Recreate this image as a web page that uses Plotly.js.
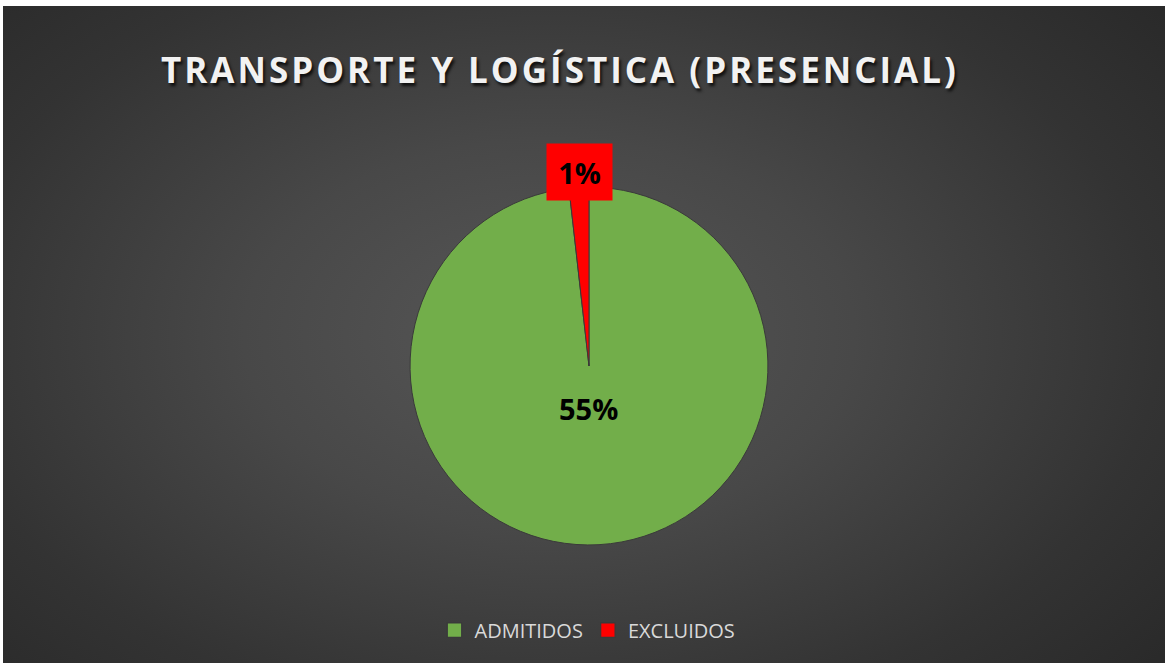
<!DOCTYPE html>
<html><head><meta charset="utf-8">
<script src="https://cdn.plot.ly/plotly-3.0.1.min.js"></script>
<style>
html,body{margin:0;padding:0;background:#fff;width:1165px;height:663px;overflow:hidden;}
#chart{position:absolute;left:3px;top:6px;width:1162px;height:657px;
background:radial-gradient(ellipse 75% 85% at 47% 50%, #575757 0%, #484848 35%, #333333 70%, #262626 100%);}
.gtitle{letter-spacing:3px;}
</style></head>
<body><div id="chart"></div>
<script>
const categories = ["ADMITIDOS", "EXCLUIDOS"];
const values = [55, 1];
const labelText = ["55%", "1%"];
const colors = ["#72ae4a", "#ff0000"];

const trace = {
  type: "pie",
  labels: categories,
  values: values,
  textinfo: "none",
  sort: false,
  direction: "clockwise",
  rotation: 0,
  marker: {colors: colors, line: {color: "#3a3a3a", width: 1}},
  domain: {x: [0.3503, 0.6583], y: [0.1796, 0.7245]},
  hoverinfo: "none"
};

const layout = {
  width: 1162, height: 657,
  paper_bgcolor: "rgba(0,0,0,0)",
  plot_bgcolor: "rgba(0,0,0,0)",
  margin: {l: 0, r: 0, t: 0, b: 0},
  title: {
    text: "TRANSPORTE Y LOGÍSTICA (PRESENCIAL)",
    x: 0.4793, xanchor: "center",
    y: 0.902, yanchor: "middle",
    font: {family: "Open Sans", size: 35, color: "#f2f2f2", weight: 700,
           shadow: "2px 3px 3px rgba(0,0,0,0.75)"}
  },
  showlegend: true,
  legend: {
    orientation: "h", x: 0.503, xanchor: "center", y: 0.05, yanchor: "middle",
    font: {family: "Open Sans", size: 20, color: "#d9d9d9"},
    bgcolor: "rgba(0,0,0,0)", itemwidth: 30, traceorder: "normal"
  },
  annotations: [{
    text: "<b>" + labelText[0] + "</b>",
    xref: "paper", yref: "paper", x: 0.5043, y: 0.3881,
    xanchor: "center", yanchor: "middle", showarrow: false,
    font: {family: "Open Sans", size: 29, color: "#000"}
  }, {
    text: "<b>" + labelText[1] + "</b>",
    xref: "paper", yref: "paper", x: 0.4957, y: 0.7473,
    xanchor: "center", yanchor: "middle",
    showarrow: false, bgcolor: colors[1], width: 63, height: 54,
    font: {family: "Open Sans", size: 29, color: "#000"}
  }]
};

Plotly.newPlot("chart", [trace], layout, {displayModeBar: false, staticPlot: true}).then(function () {
  document.querySelectorAll("#chart .legendpoints path").forEach(function (p) {
    const t = p.getAttribute("transform") || "";
    p.setAttribute("transform", t + " scale(1.2)");
  });
});
</script></body></html>
